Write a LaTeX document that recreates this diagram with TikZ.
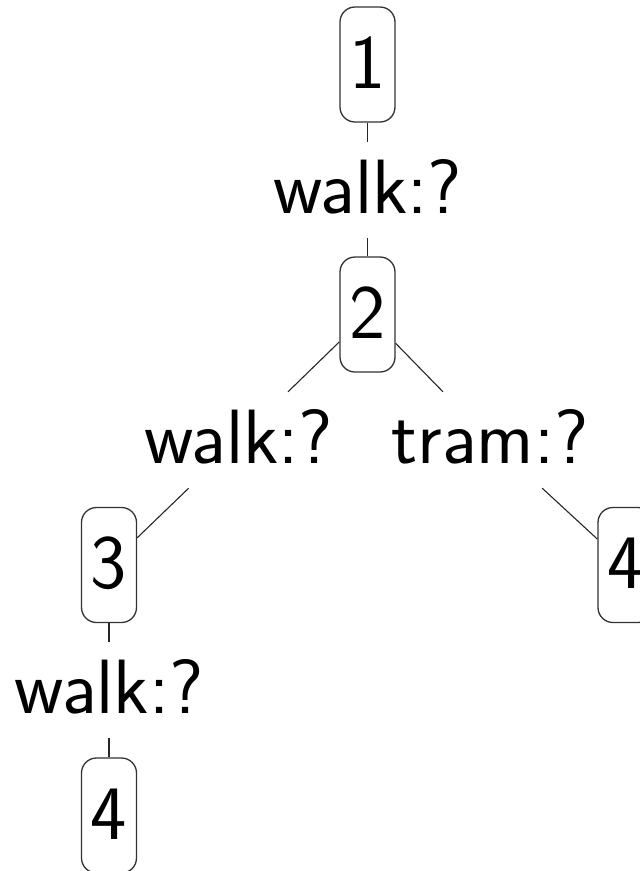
\documentclass[tikz,border=0pt]{standalone}
\usepackage{fontspec}
\begin{document}
\begin{tikzpicture}[x=1pt,y=-1pt,
  every node/.style={font=\sffamily\fontsize{77}{92}\selectfont, inner sep=0pt, text height=47pt, text depth=0pt},
  numbox/.style={draw=black!80, line width=1.3pt, rounded corners=15pt, minimum width=55pt, minimum height=115pt},
  lab/.style={minimum height=96pt, minimum width=185pt},
  edge/.style={draw=black!85, line width=1.1pt}]
\useasboundingbox (0,0) rectangle (640,871);
\node[numbox] (n1) at (367.5,64.5) {1};
\node[lab] (l1) at (367.5,190) {walk:?};
\node[numbox] (n2) at (367.5,314.5) {2};
\node[lab] (l2) at (238.5,440) {walk:?};
\node[lab] (l3) at (490,440) {tram:?};
\node[numbox] (n3) at (109,565) {3};
\node[numbox] (n4) at (625.5,565) {4};
\node[lab] (l4) at (109,690) {walk:?};
\node[numbox] (n5) at (109,815.5) {4};
\draw[edge] (n1) -- (l1);
\draw[edge] (l1) -- (n2);
\draw[edge] (n2) -- (l2);
\draw[edge] (n2) -- (l3);
\draw[edge] (l2) -- (n3);
\draw[edge] (l3) -- (n4);
\draw[edge] (n3) -- (l4);
\draw[edge] (l4) -- (n5);
\end{tikzpicture}
\end{document}
